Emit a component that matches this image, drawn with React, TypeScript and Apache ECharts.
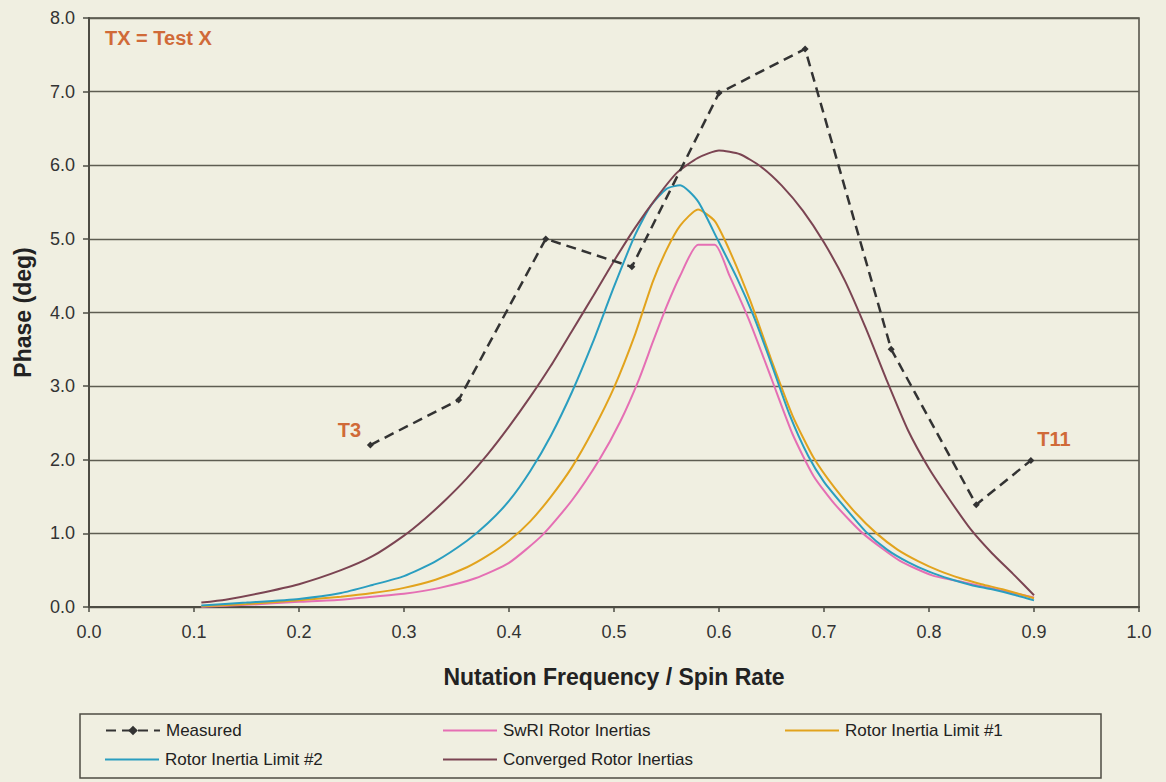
import React, { useEffect, useRef } from 'react';
import * as echarts from 'echarts';

// ---- data ----
const xTicks = [0, 0.1, 0.2, 0.3, 0.4, 0.5, 0.6, 0.7, 0.8, 0.9, 1.0];
const yTicks = [0, 1, 2, 3, 4, 5, 6, 7, 8];

const measuredX = [0.268, 0.352, 0.435, 0.517, 0.6, 0.682, 0.764, 0.845, 0.897];
const measuredY = [2.2, 2.81, 5.0, 4.62, 6.98, 7.58, 3.5, 1.39, 1.99];
const measuredTags = ['T3', '', '', '', '', '', '', '', 'T11'];

const swriX = [0.107, 0.15, 0.2, 0.24, 0.27, 0.3, 0.334, 0.368, 0.4, 0.432, 0.46, 0.486, 0.506, 0.524, 0.537, 0.55, 0.563, 0.58, 0.596, 0.61, 0.63, 0.65, 0.67, 0.69, 0.71, 0.737, 0.772, 0.803, 0.835, 0.867, 0.9];
const swriY = [0.005, 0.03, 0.07, 0.1, 0.14, 0.18, 0.26, 0.39, 0.6, 0.98, 1.45, 2.0, 2.52, 3.1, 3.6, 4.08, 4.5, 4.92, 4.92, 4.5, 3.85, 3.1, 2.35, 1.78, 1.4, 1.0, 0.63, 0.43, 0.33, 0.23, 0.13];

const limit1X = [0.107, 0.15, 0.2, 0.24, 0.27, 0.3, 0.33, 0.36, 0.38, 0.4, 0.42, 0.44, 0.46, 0.48, 0.5, 0.52, 0.537, 0.55, 0.563, 0.58, 0.596, 0.612, 0.63, 0.65, 0.67, 0.69, 0.71, 0.73, 0.75, 0.77, 0.79, 0.81, 0.83, 0.85, 0.87, 0.9];
const limit1Y = [0.01, 0.04, 0.09, 0.14, 0.19, 0.26, 0.37, 0.54, 0.7, 0.9, 1.16, 1.5, 1.9, 2.4, 2.98, 3.7, 4.42, 4.85, 5.18, 5.4, 5.24, 4.78, 4.15, 3.35, 2.6, 2.03, 1.62, 1.28, 1.0, 0.78, 0.62, 0.49, 0.39, 0.31, 0.24, 0.12];

const limit2X = [0.107, 0.15, 0.2, 0.24, 0.27, 0.3, 0.33, 0.36, 0.38, 0.4, 0.42, 0.44, 0.46, 0.48, 0.5, 0.52, 0.535, 0.55, 0.563, 0.58, 0.598, 0.617, 0.633, 0.65, 0.667, 0.685, 0.7, 0.72, 0.74, 0.76, 0.78, 0.8, 0.82, 0.84, 0.86, 0.88, 0.9];
const limit2Y = [0.02, 0.06, 0.11, 0.19, 0.3, 0.42, 0.62, 0.9, 1.14, 1.44, 1.84, 2.33, 2.92, 3.6, 4.35, 5.05, 5.45, 5.68, 5.73, 5.51, 5.01, 4.47, 3.95, 3.3, 2.62, 2.05, 1.7, 1.35, 1.02, 0.78, 0.61, 0.48, 0.38, 0.3, 0.24, 0.17, 0.09];

const convergedX = [0.107, 0.13, 0.16, 0.2, 0.24, 0.27, 0.3, 0.32, 0.34, 0.36, 0.38, 0.4, 0.42, 0.44, 0.46, 0.48, 0.5, 0.52, 0.54, 0.56, 0.58, 0.6, 0.62, 0.64, 0.66, 0.68, 0.7, 0.72, 0.74, 0.76, 0.78, 0.8, 0.82, 0.84, 0.86, 0.88, 0.9];
const convergedY = [0.06, 0.1, 0.18, 0.31, 0.5, 0.69, 0.97, 1.2, 1.46, 1.75, 2.08, 2.45, 2.85, 3.28, 3.75, 4.22, 4.7, 5.15, 5.55, 5.9, 6.1, 6.2, 6.15, 5.98, 5.72, 5.38, 4.95, 4.43, 3.78, 3.07, 2.4, 1.88, 1.45, 1.05, 0.73, 0.45, 0.16];

const seriesNames = [
  'Measured',
  'SwRI Rotor Inertias',
  'Rotor Inertia Limit #1',
  'Rotor Inertia Limit #2',
  'Converged Rotor Inertias',
];
const seriesColors = ['#333333', '#e56fb4', '#e2a31d', '#2a9ec0', '#7b4452'];

const FONT = '"Liberation Sans", Arial, Helvetica, sans-serif';
const AXIS_COLOR = '#4d4c43';
const NOTE_COLOR = '#d06a38';

const zip = (xs: number[], ys: number[]) => xs.map((x, i) => [x, ys[i]]);

export default function App() {
  const ref = useRef<HTMLDivElement>(null);

  useEffect(() => {
    if (!ref.current) return;
    const chart = echarts.init(ref.current, null, { renderer: 'svg' });

    const measuredData = measuredX.map((x, i) => {
      const tag = measuredTags[i];
      if (!tag) return [x, measuredY[i]];
      return {
        value: [x, measuredY[i]],
        label: {
          show: true,
          formatter: tag,
          position: 'inside',
          offset: i === 0 ? [-21, -15] : [23, -21],
          color: NOTE_COLOR,
          fontSize: 20,
          fontWeight: 'bold',
          fontFamily: FONT,
        },
      };
    });

    const curve = (idx: number, xs: number[], ys: number[]) => ({
      name: seriesNames[idx],
      type: 'line',
      data: zip(xs, ys),
      symbol: 'none',
      smooth: 0.2,
      lineStyle: { color: seriesColors[idx], width: 2 },
      itemStyle: { color: seriesColors[idx] },
      z: 3 + idx,
    });

    const legendBase = {
      orient: 'horizontal',
      padding: 0,
      itemWidth: 54,
      itemHeight: 12,
      itemGap: 0,
      textStyle: { fontSize: 17, color: '#222', fontFamily: FONT, padding: [0, 0, 0, 1] },
    };
    const lineLegend = (idx: number, left: number, top: number) => ({
      ...legendBase,
      itemHeight: 2,
      data: [{ name: seriesNames[idx], icon: 'rect' }],
      left,
      top,
    });

    chart.setOption({
      animation: false,
      backgroundColor: '#f0efe1',
      textStyle: { fontFamily: FONT },
      grid: {
        left: 89,
        right: 27,
        top: 18,
        bottom: 175,
        show: true,
        borderColor: AXIS_COLOR,
        borderWidth: 1.5,
        backgroundColor: 'transparent',
      },
      xAxis: {
        type: 'value',
        min: xTicks[0],
        max: xTicks[xTicks.length - 1],
        interval: 0.1,
        name: 'Nutation Frequency / Spin Rate',
        nameLocation: 'middle',
        nameGap: 58,
        nameTextStyle: { fontSize: 23, fontWeight: 'bold', color: '#222', fontFamily: FONT },
        axisLine: { show: true, lineStyle: { color: AXIS_COLOR, width: 2 } },
        axisTick: { show: true, inside: false, length: 5, lineStyle: { color: AXIS_COLOR, width: 1.5 } },
        axisLabel: {
          fontSize: 18,
          color: '#333',
          margin: 16,
          fontFamily: FONT,
          formatter: (v: number) => v.toFixed(1),
        },
        splitLine: { show: false },
      },
      yAxis: {
        type: 'value',
        min: yTicks[0],
        max: yTicks[yTicks.length - 1],
        interval: 1,
        name: 'Phase (deg)',
        nameLocation: 'middle',
        nameGap: 55,
        nameTextStyle: { fontSize: 23, fontWeight: 'bold', color: '#222', fontFamily: FONT },
        axisLine: { show: true, lineStyle: { color: AXIS_COLOR, width: 2 } },
        axisTick: { show: true, inside: false, length: 6, lineStyle: { color: AXIS_COLOR, width: 1.5 } },
        axisLabel: {
          fontSize: 18,
          color: '#333',
          margin: 14,
          fontFamily: FONT,
          formatter: (v: number) => v.toFixed(1),
        },
        splitLine: { show: true, lineStyle: { color: '#5e5d52', width: 1.3 } },
      },
      legend: [
        { ...legendBase, data: [seriesNames[0]], left: 105, top: 722 },
        lineLegend(1, 443, 722),
        lineLegend(2, 785, 722),
        lineLegend(3, 105, 751),
        lineLegend(4, 443, 751),
      ],
      graphic: [
        {
          type: 'rect',
          shape: { x: 80, y: 714, width: 1021, height: 64 },
          style: { fill: 'transparent', stroke: AXIS_COLOR, lineWidth: 1.5 },
          silent: true,
        },
        {
          type: 'text',
          x: 105,
          y: 28,
          style: {
            text: 'TX = Test X',
            fill: NOTE_COLOR,
            font: `bold 20px ${FONT}`,
          },
        },
      ],
      series: [
        {
          name: seriesNames[0],
          type: 'line',
          data: measuredData,
          symbol: 'diamond',
          symbolSize: 7,
          showSymbol: true,
          lineStyle: { color: seriesColors[0], width: 2.5, type: [10, 6] },
          itemStyle: { color: seriesColors[0] },
          z: 10,
        },
        curve(1, swriX, swriY),
        curve(2, limit1X, limit1Y),
        curve(3, limit2X, limit2Y),
        curve(4, convergedX, convergedY),
      ],
    });

    return () => chart.dispose();
  }, []);

  return (
    <div
      ref={ref}
      style={{ position: 'fixed', left: 0, top: 0, width: 1166, height: 782, background: '#f0efe1' }}
    />
  );
}
